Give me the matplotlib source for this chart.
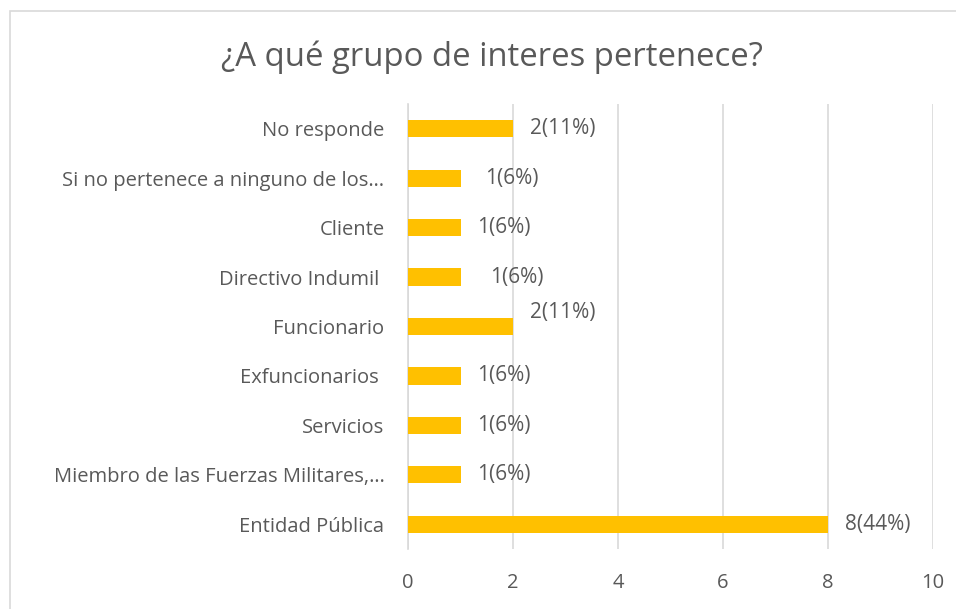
import matplotlib
matplotlib.use('Agg')
import matplotlib.pyplot as plt
from matplotlib.patches import Rectangle

categorias = ['Entidad Pública', 'Miembro de las Fuerzas Militares,…', 'Servicios',
              'Exfuncionarios ', 'Funcionario', 'Directivo Indumil ', 'Cliente',
              'Si no pertenece a ninguno de los…', 'No responde']
valores = [8, 1, 1, 1, 2, 1, 1, 1, 2]
etiquetas = ['8(44%)', '1(6%)', '1(6%)', '1(6%)', '2(11%)', '1(6%)', '1(6%)', '1(6%)', '2(11%)']
# desplazamiento de las etiquetas (puntos)
dx = [12, 12, 12, 12, 12, 21, 12, 18, 12]
dy = [0, 0, 0, 0, 10, 0, 0, 0, 0]

gris = '#595959'
plt.rcParams['font.family'] = ['Open Sans', 'DejaVu Sans']

fig = plt.figure(figsize=(9.56, 6.09), dpi=100)
fig.patches.append(Rectangle((10 / 956, -0.1), 1.2, 1 - 11 / 609 + 0.1, transform=fig.transFigure,
                             fill=False, edgecolor='#d9d9d9', lw=1.2))
ax = fig.add_axes([408 / 956, 1 - 549 / 609, 525 / 956, 445 / 609])

y = range(len(categorias))
ax.barh(y, valores, height=0.35, color='#FFC000', zorder=3)
for i, v in enumerate(valores):
    ax.annotate(etiquetas[i], (v, i), xytext=(dx[i], dy[i]), textcoords='offset points',
                va='center', ha='left', fontsize=15, color=gris)

ax.set_xlim(0, 10)
ax.set_ylim(-0.5, len(categorias) - 0.5)
ax.set_xticks(range(0, 11, 2))
ax.set_yticks(list(y))
ax.set_yticklabels(categorias)
ax.tick_params(length=0, labelsize=14.5, colors=gris)
ax.tick_params(axis='y', pad=17)
ax.tick_params(axis='x', pad=17)
ax.grid(axis='x', color='#d9d9d9', lw=1.2, zorder=0)
for s in ['top', 'right', 'bottom']:
    ax.spines[s].set_visible(False)
ax.spines['left'].set_color('#d9d9d9')
ax.spines['left'].set_linewidth(1.2)

fig.text(0.515, 1 - 57 / 609, '¿A qué grupo de interes pertenece?', ha='center', va='center',
         fontsize=23.7, color=gris)

fig.savefig('out.png', dpi=100)
